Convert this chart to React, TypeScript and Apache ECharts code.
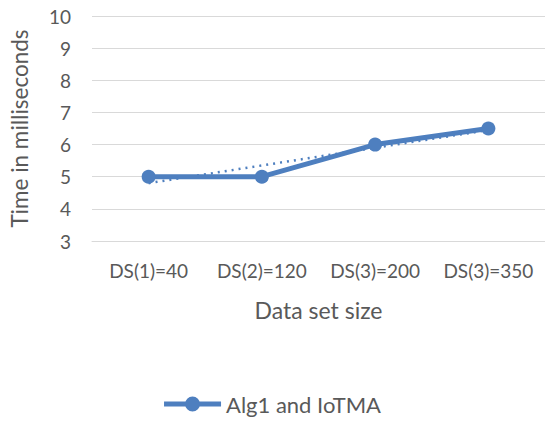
import React, { useEffect, useRef } from "react";
import * as echarts from "echarts";

const categories = ["DS(1)=40", "DS(2)=120", "DS(3)=200", "DS(3)=350"];
const algValues = [5, 5, 6, 6.5];
const trendValues = [4.8, 5.35, 5.9, 6.45];
const seriesName = "Alg1 and IoTMA";
const yMin = 3;
const yMax = 10;

const FONT = "Lato, 'Open Sans', sans-serif";
const COLOR = "#4e7fbf";
const LEGEND_ICON =
  "path://M0,5h57v5H0Z M21,7.5a7.5,7.5 0 1,1 15,0a7.5,7.5 0 1,1 -15,0Z";

export default function App() {
  const ref = useRef<HTMLDivElement>(null);
  useEffect(() => {
    const chart = echarts.init(ref.current!, null, { renderer: "svg" });
    chart.setOption({
      animation: false,
      grid: { left: 91, right: 0, top: 16, bottom: 180, containLabel: false },
      xAxis: {
        type: "category",
        data: categories,
        boundaryGap: true,
        axisLine: { show: true, lineStyle: { color: "#d9d9d9", width: 1 } },
        axisTick: { show: false },
        axisLabel: {
          color: "#595959",
          fontSize: 19,
          fontFamily: FONT,
          margin: 20,
          interval: 0,
          hideOverlap: false,
        },
        name: "Data set size",
        nameLocation: "middle",
        nameGap: 57,
        nameTextStyle: { color: "#595959", fontSize: 23, fontFamily: FONT },
      },
      yAxis: {
        type: "value",
        min: yMin,
        max: yMax,
        interval: 1,
        axisLine: { show: false },
        axisTick: { show: false },
        splitLine: { lineStyle: { color: "#d9d9d9", width: 1 } },
        axisLabel: { color: "#595959", fontSize: 19, fontFamily: FONT, margin: 21 },
        name: "Time in milliseconds",
        nameLocation: "middle",
        nameGap: 61,
        nameTextStyle: { color: "#595959", fontSize: 22.5, fontFamily: FONT },
      },
      legend: {
        data: [{ name: seriesName, icon: LEGEND_ICON }],
        top: 388,
        left: "center",
        itemWidth: 57,
        itemHeight: 15,
        itemGap: 10,
        textStyle: { color: "#595959", fontSize: 22, fontFamily: FONT },
      },
      series: [
        {
          name: "trend",
          type: "line",
          data: trendValues,
          symbol: "none",
          lineStyle: { color: COLOR, width: 2.5, type: [2, 5] },
          z: 1,
          silent: true,
        },
        {
          name: seriesName,
          type: "line",
          data: algValues,
          symbol: "circle",
          symbolSize: 14,
          itemStyle: { color: COLOR },
          lineStyle: { color: COLOR, width: 5 },
          z: 2,
        },
      ],
    });
    return () => chart.dispose();
  }, []);
  return (
    <div
      ref={ref}
      style={{ position: "fixed", left: 0, top: 0, width: 545, height: 421, background: "#fff" }}
    />
  );
}
